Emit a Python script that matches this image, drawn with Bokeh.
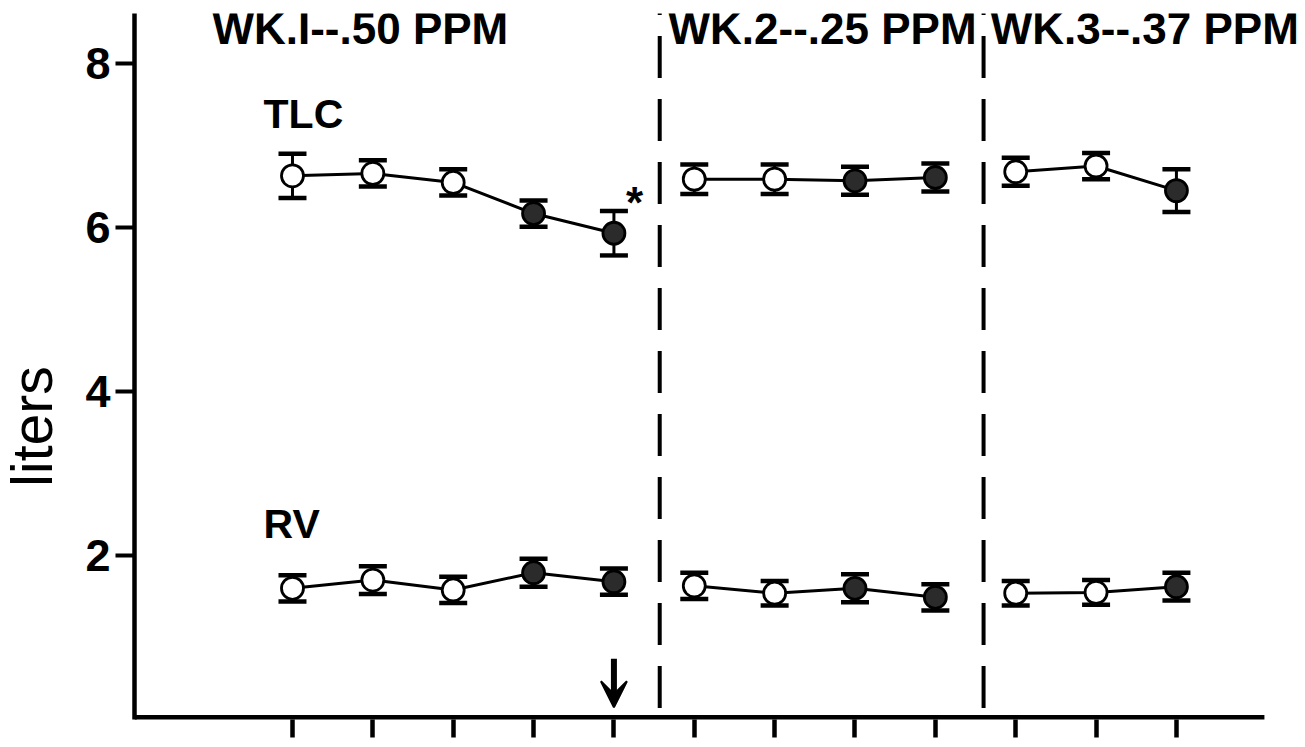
import math
from bokeh.plotting import figure
from bokeh.layouts import row
from bokeh.models import FixedTicker, Label, Arrow, VeeHead, Range1d
from bokeh.embed import file_html
from bokeh.resources import INLINE

# ---- data ----
week_titles = ["WK.I--.50 PPM", "WK.2--.25 PPM", "WK.3--.37 PPM"]
week_of = [1, 1, 1, 1, 1, 2, 2, 2, 2, 3, 3, 3]
xpos = [1, 2, 3, 4, 5, 6, 7, 8, 9, 10, 11, 12]
tlc = [6.63, 6.66, 6.55, 6.17, 5.93, 6.59, 6.59, 6.57, 6.61, 6.68, 6.75, 6.45]
tlc_err = [0.27, 0.16, 0.16, 0.16, 0.27, 0.18, 0.18, 0.17, 0.17, 0.17, 0.16, 0.26]
rv = [1.60, 1.70, 1.58, 1.79, 1.68, 1.63, 1.54, 1.60, 1.49, 1.54, 1.55, 1.62]
rv_err = [0.16, 0.17, 0.16, 0.17, 0.16, 0.16, 0.15, 0.17, 0.16, 0.15, 0.15, 0.17]
filled = [False, False, False, True, True, False, False, True, True, False, False, True]
dividers = [5.57, 9.6]
y_ticks = [2, 4, 6, 8]
arrow_at = 5
star_at = 5

FONT = "Liberation Sans"
X0, X_AXIS_END, X1 = -0.966, 13.095, 13.544

# ---- left strip holding the y-axis title ----
left = figure(width=70, height=747, x_range=Range1d(0, 70), y_range=Range1d(0, 747),
              output_backend="svg", toolbar_location=None,
              x_axis_location=None, y_axis_location=None,
              min_border_left=0, min_border_right=0, min_border_top=0, min_border_bottom=0)
left.outline_line_color = None
left.xgrid.visible = False
left.ygrid.visible = False
left.add_layout(Label(x=31, y=310, text="liters", angle=math.pi / 2,
                      text_font=FONT, text_font_style="normal", text_font_size="57px",
                      text_color="black", text_align="center", text_baseline="middle"))

# ---- main plot ----
p = figure(width=1235, height=747,
           x_range=Range1d(X0, X1), y_range=Range1d(0, 8.61),
           output_backend="svg", toolbar_location=None,
           min_border_left=64, min_border_right=5,
           min_border_top=13, min_border_bottom=28)
p.outline_line_color = None
p.xgrid.visible = False
p.ygrid.visible = False

# y axis
p.yaxis.ticker = FixedTicker(ticks=y_ticks)
p.yaxis.minor_tick_line_color = None
p.yaxis.major_tick_in = 0
p.yaxis.major_tick_out = 19
p.yaxis.major_tick_line_width = 4
p.yaxis.axis_line_width = 4.5
p.yaxis.major_label_text_font = FONT
p.yaxis.major_label_text_font_style = "bold"
p.yaxis.major_label_text_font_size = "45px"
p.yaxis.major_label_text_color = "black"
p.yaxis.major_label_standoff = 5

# x axis (line drawn as glyph so it stops short of the right edge)
p.xaxis.ticker = FixedTicker(ticks=xpos)
p.xaxis.major_label_overrides = {x: "" for x in xpos}
p.xaxis.minor_tick_line_color = None
p.xaxis.major_tick_in = 0
p.xaxis.major_tick_out = 18
p.xaxis.major_tick_line_width = 4.5
p.xaxis.axis_line_color = None
p.segment(x0=[X0], y0=[0], x1=[X_AXIS_END], y1=[0], line_color="black", line_width=9)

# dividers
for d in dividers:
    p.segment(x0=[d], y0=[0.14], x1=[d], y1=[8.8], line_color="black",
              line_width=4, line_dash="42 21")

def series(vals, errs):
    lo = [v - e for v, e in zip(vals, errs)]
    hi = [v + e for v, e in zip(vals, errs)]
    p.segment(x0=xpos, y0=lo, x1=xpos, y1=hi, line_color="black", line_width=3)
    for w in (1, 2, 3):
        xs = [x for x, k in zip(xpos, week_of) if k == w]
        ys = [v for v, k in zip(vals, week_of) if k == w]
        p.line(xs, ys, line_color="black", line_width=3)
    p.scatter(xpos, hi, marker="dash", size=28, line_color="black", line_width=4.5)
    p.scatter(xpos, lo, marker="dash", size=28, line_color="black", line_width=4.5)
    fills = ["#2b2b2b" if f else "white" for f in filled]
    p.scatter(xpos, vals, marker="circle", size=22, fill_color=fills,
              line_color="black", line_width=2.8)

series(tlc, tlc_err)
series(rv, rv_err)

# headers
header_x = [0.004, 5.68, 9.69]
for t, hx in zip(week_titles, header_x):
    p.add_layout(Label(x=hx, y=8.43, text=t, text_font=FONT, text_font_style="bold",
                       text_font_size="44px", text_color="black",
                       text_baseline="alphabetic", text_align="left"))

p.add_layout(Label(x=0.64, y=7.39, text="TLC", text_font=FONT, text_font_style="bold",
                   text_font_size="41px", text_color="black", text_baseline="alphabetic"))
p.add_layout(Label(x=0.64, y=2.39, text="RV", text_font=FONT, text_font_style="bold",
                   text_font_size="41px", text_color="black", text_baseline="alphabetic"))
p.add_layout(Label(x=star_at + 0.256, y=6.31, text="*", text_font=FONT, text_font_style="bold",
                   text_font_size="44px", text_color="black", text_baseline="alphabetic",
                   text_align="center"))

p.add_layout(Arrow(x_start=arrow_at, y_start=0.74, x_end=arrow_at, y_end=0.15,
                   line_color="black", line_width=6,
                   end=VeeHead(size=26, fill_color="black", line_color="black", line_width=2)))

layout = row(left, p, spacing=0)
open("out.html", "w").write(file_html(layout, INLINE))
